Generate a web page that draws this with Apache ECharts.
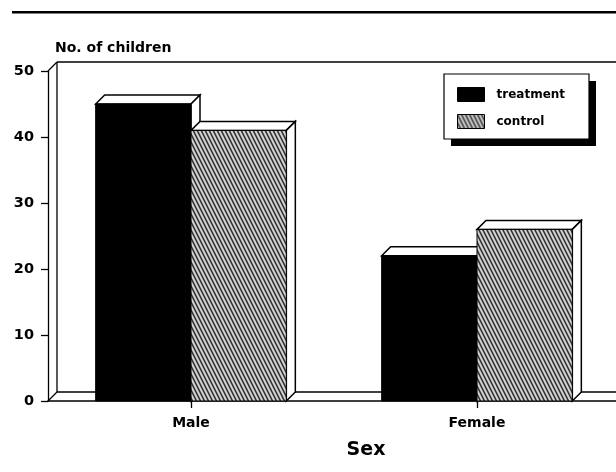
<!DOCTYPE html>
<html>
<head>
<meta charset="utf-8">
<title>No. of children by sex</title>
<script src="https://cdn.jsdelivr.net/npm/echarts@6/dist/echarts.min.js"></script>
<style>
  html, body { margin: 0; padding: 0; background: #fff; }
  #chart { width: 616px; height: 472px; overflow: hidden; }
</style>
</head>
<body>
<div id="chart"></div>
<script>
const categories = ['Male', 'Female']
const treatment = [45, 22]
const control = [41, 26]
const yTicks = [0, 10, 20, 30, 40, 50]

const FONT = '"DejaVu Sans", sans-serif'
const DEPTH = 9

// steep diagonal hatch for the control bars, soft like the scan
function hatch() {
  const c = document.createElement('canvas')
  c.width = 4
  c.height = 8
  const g = c.getContext('2d')
  g.fillStyle = '#d4d4d4'
  g.fillRect(0, 0, 4, 8)
  g.strokeStyle = '#333'
  g.lineWidth = 1.6
  g.beginPath()
  for (let dx = -4; dx <= 4; dx += 4) {
    g.moveTo(dx - 1, -2)
    g.lineTo(dx + 5, 10)
  }
  g.stroke()
  return { image: c, repeat: 'repeat' }
}
const hatchFill = hatch()

const edge = { fill: '#fff', stroke: '#000', lineWidth: 1.5 }

// one bar with its top and side face; slot is -1 for treatment, 0 for control
function bar3d(slot, fill) {
  return function (params, api) {
    const width = api.size([1, 0])[0] / 3
    const top = api.coord([api.value(0), api.value(1)])
    const base = api.coord([api.value(0), 0])
    const x0 = top[0] + slot * width
    const x1 = x0 + width
    const y0 = top[1]
    const y1 = base[1]
    return {
      type: 'group',
      children: [
        { type: 'polygon', shape: { points: [[x0, y0], [x0 + DEPTH, y0 - DEPTH], [x1 + DEPTH, y0 - DEPTH], [x1, y0]] }, style: edge },
        { type: 'polygon', shape: { points: [[x1, y0], [x1 + DEPTH, y0 - DEPTH], [x1 + DEPTH, y1 - DEPTH], [x1, y1]] }, style: edge },
        { type: 'rect', shape: { x: x0, y: y0, width: width, height: y1 - y0 }, style: { fill: fill, stroke: '#000', lineWidth: 1 } }
      ]
    }
  }
}

// back walls of the box, behind the bars
function walls(params, api) {
  const rect = params.coordSys
  const left = rect.x
  const right = rect.x + rect.width
  const top = api.coord([0, yTicks[yTicks.length - 1]])[1]
  const bottom = api.coord([0, 0])[1]
  const line = (x1, y1, x2, y2) => ({
    type: 'line',
    shape: { x1, y1, x2, y2 },
    style: { stroke: '#000', lineWidth: 1.3 }
  })
  return {
    type: 'group',
    children: [
      line(left, top, left + DEPTH, top - DEPTH),
      line(left, bottom, left + DEPTH, bottom - DEPTH),
      line(left + DEPTH, top - DEPTH, left + DEPTH, bottom - DEPTH),
      line(left + DEPTH, top - DEPTH, right, top - DEPTH),
      line(left + DEPTH, bottom - DEPTH, right, bottom - DEPTH)
    ]
  }
}

const chart = echarts.init(document.getElementById('chart'), null, { renderer: 'canvas' })

chart.setOption({
  backgroundColor: '#fff',
  animation: false,
  textStyle: { fontFamily: FONT, color: '#000' },
  grid: { left: 48, top: 71, width: 572, height: 330, outerBoundsMode: 'none' },
  legend: {
    left: 457,
    top: 87,
    z: 10,
    orient: 'vertical',
    align: 'left',
    padding: 0,
    itemGap: 12,
    itemWidth: 27,
    itemHeight: 14,
    icon: 'rect',
    data: ['treatment', 'control'],
    itemStyle: { borderColor: '#000', borderWidth: 1 },
    textStyle: { fontFamily: FONT, fontWeight: 'bold', fontSize: 12, color: '#000', padding: [0, 0, 0, 7] }
  },
  xAxis: {
    type: 'category',
    data: categories,
    name: 'Sex',
    nameLocation: 'middle',
    nameGap: 40,
    nameTextStyle: { fontFamily: FONT, fontWeight: 'bold', fontSize: 19, color: '#000', padding: [0, 0, 0, 64] },
    axisLine: { show: true, lineStyle: { color: '#000', width: 1.5 } },
    axisTick: { show: true, alignWithLabel: true, length: 7, lineStyle: { color: '#000', width: 1.3 } },
    axisLabel: { fontFamily: FONT, fontWeight: 'bold', fontSize: 14, color: '#000', margin: 15 }
  },
  yAxis: {
    type: 'value',
    min: 0,
    max: 50,
    interval: 10,
    name: 'No. of children',
    nameLocation: 'end',
    nameGap: 16,
    nameTextStyle: { fontFamily: FONT, fontWeight: 'bold', fontSize: 14, color: '#000', align: 'left', padding: [0, 0, 0, 7] },
    axisLine: { show: true, lineStyle: { color: '#000', width: 1.3 } },
    axisTick: { show: true, length: 7, lineStyle: { color: '#000', width: 1.3 } },
    axisLabel: { fontFamily: FONT, fontWeight: 'bold', fontSize: 14.5, color: '#000', margin: 14 },
    splitLine: { show: false }
  },
  graphic: [
    { type: 'rect', shape: { x: 12, y: 11, width: 604, height: 2.5 }, style: { fill: '#000' } },
    // legend frame with its drop shadow
    { type: 'rect', z: 5, shape: { x: 451, y: 81, width: 145, height: 65 }, style: { fill: '#000' } },
    { type: 'rect', z: 5, shape: { x: 444, y: 74, width: 145, height: 65 }, style: { fill: '#fff', stroke: '#000', lineWidth: 1.2 } }
  ],
  series: [
    {
      type: 'custom',
      name: 'walls',
      silent: true,
      renderItem: walls,
      data: [[0, 0]],
      z: 1
    },
    {
      type: 'custom',
      name: 'treatment',
      renderItem: bar3d(-1, '#000'),
      itemStyle: { color: '#000' },
      encode: { x: 0, y: 1 },
      data: categories.map((c, i) => [i, treatment[i]]),
      z: 2
    },
    {
      type: 'custom',
      name: 'control',
      renderItem: bar3d(0, hatchFill),
      itemStyle: { color: hatchFill },
      encode: { x: 0, y: 1 },
      data: categories.map((c, i) => [i, control[i]]),
      z: 3
    }
  ]
})

window.addEventListener('resize', () => chart.resize())
</script>
</body>
</html>
